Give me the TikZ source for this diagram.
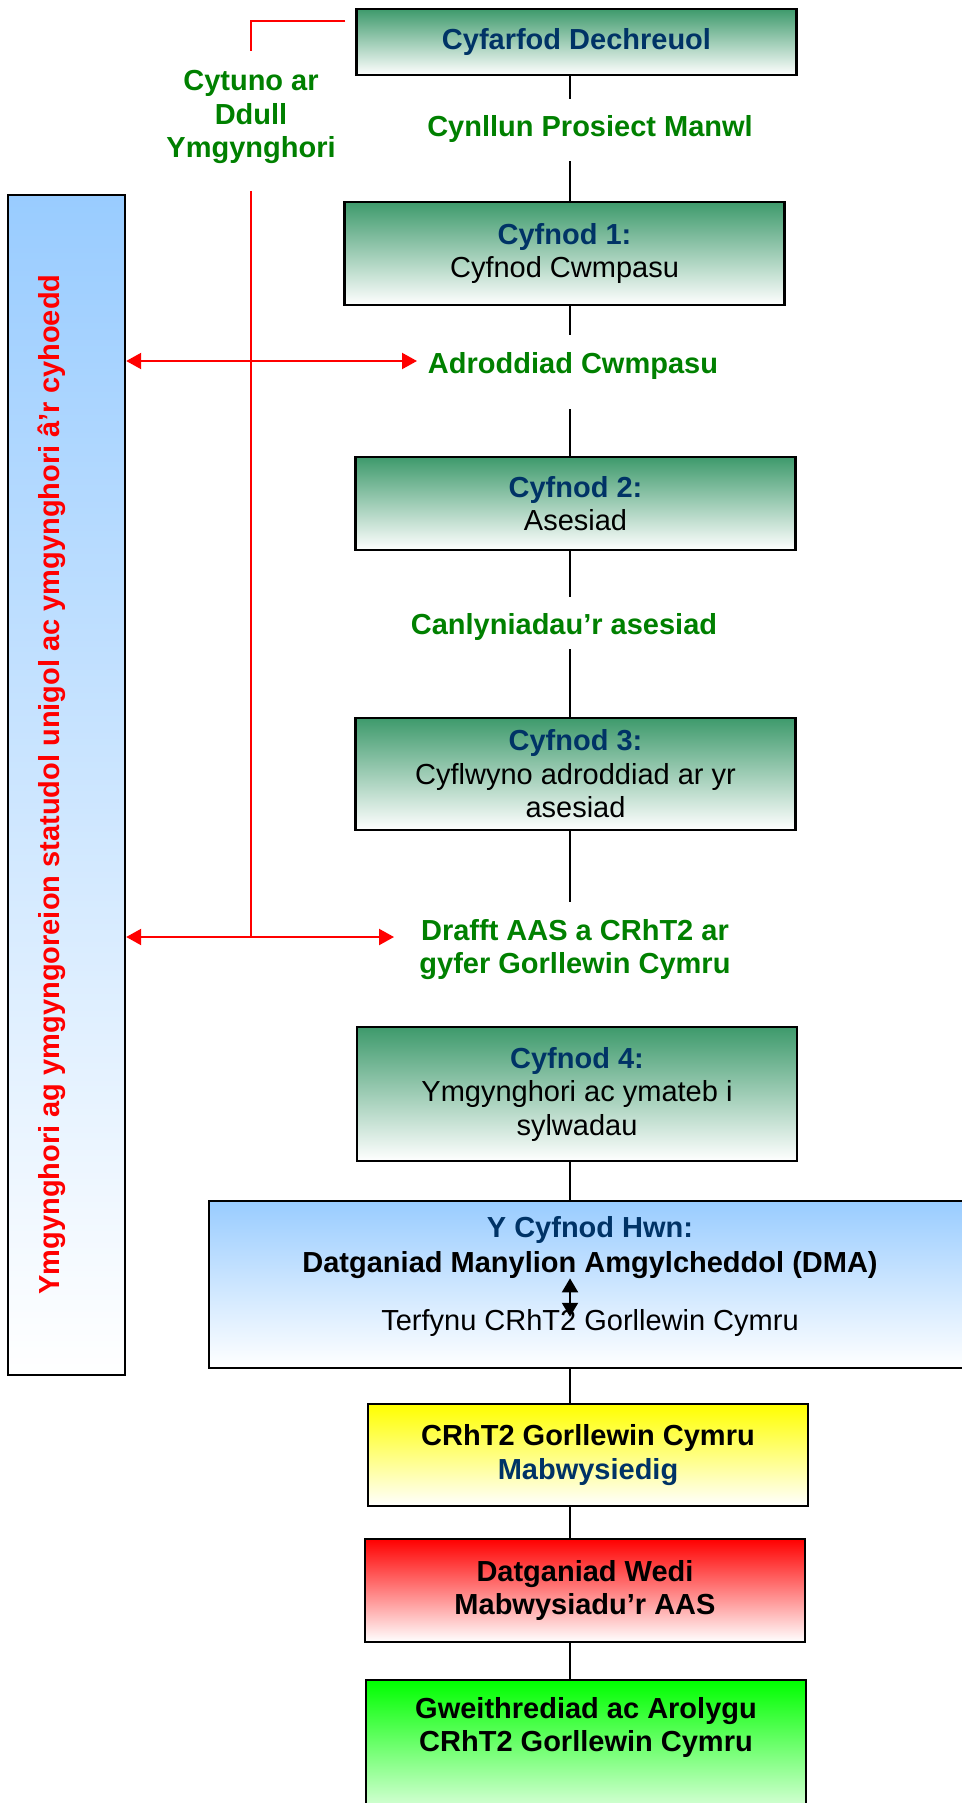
\documentclass[tikz,border=0pt]{standalone}
\usepackage{fontspec}
\setmainfont{Liberation Sans}
\usepackage{tikz}
\usetikzlibrary{positioning,arrows.meta}

\definecolor{headblue}{RGB}{0,51,102}
\definecolor{labgreen}{RGB}{0,128,0}
\definecolor{phasegreen}{RGB}{62,154,108}
\definecolor{skyblue}{RGB}{153,204,255}
\newcommand{\diagfont}{\fontsize{29}{33.5}\selectfont}
\newcommand{\phasehead}[1]{\textcolor{headblue}{\textbf{#1}}}

\begin{document}
\begin{tikzpicture}[x=1pt, y=-1pt,
			box/.style={draw=black, line width=2.4pt, minimum width=440pt, align=center, inner sep=0pt, font=\diagfont},
			phase/.style={box, top color=phasegreen, bottom color=white},
			lab/.style={text=labgreen, font=\diagfont\bfseries, align=center, inner sep=0pt},
			txt/.style={font=\diagfont, align=center, inner sep=0pt},
			link/.style={draw=black, line width=1.5pt},
			redline/.style={draw=red, line width=1.6pt},
			redarrow/.style={draw=red, line width=2.2pt, {Triangle[length=15pt,width=16pt]}-{Triangle[length=15pt,width=16pt]}},
			duo/.style={draw=black, line width=2pt, {Triangle[length=14pt,width=16pt]}-{Triangle[length=14pt,width=16pt]}},
		]
		
			\useasboundingbox (0,0) rectangle (961,1803);
			
			%Boxes
			\node[phase, minimum height=66pt]		(start)	at (576.5,42)		{\phasehead{Cyfarfod Dechreuol}};
			\node[phase, minimum height=103pt]		(c1)	at (564.5,253.5)	{\phasehead{Cyfnod 1:}\\Cyfnod Cwmpasu};
			\node[phase, minimum height=93pt]		(c2)	at (575.5,503.5)	{\phasehead{Cyfnod 2:}\\Asesiad};
			\node[phase, minimum height=112pt]		(c3)	at (575.5,774)		{\phasehead{Cyfnod 3:}\\Cyflwyno adroddiad ar yr\\asesiad};
			\node[phase, minimum height=134pt]		(c4)	at (577,1094)		{\phasehead{Cyfnod 4:}\\Ymgynghori ac ymateb i\\sylwadau};
			\node[box, top color=skyblue, bottom color=white, minimum width=762pt, minimum height=167pt]	(hwn)	at (590,1284.5)	{};
			\node[box, top color=yellow, bottom color=white, minimum height=102pt, font=\diagfont\bfseries]	(mabw)	at (588,1455)	{CRhT2 Gorllewin Cymru\\\textcolor{headblue}{Mabwysiedig}};
			\node[box, top color=red, bottom color=white, minimum height=103pt, font=\diagfont\bfseries]	(aas)	at (585,1590.5)	{Datganiad Wedi\\Mabwysiadu’r AAS};
			\node[box, top color=green, bottom color=white, inner ysep=17pt, anchor=north, font=\diagfont\bfseries]	(gweith)	at (586,1679)	{Gweithrediad ac Arolygu\\CRhT2 Gorllewin Cymru\\[30pt]\mbox{}};
			\node[box, top color=skyblue, bottom color=white, minimum width=117pt, minimum height=1180pt]	(ymg)	at (66.5,785)	{};
			
			%Texts
			\node[txt, rotate=90, anchor=base, text=red, font=\diagfont\bfseries]	(ymgtxt)	at (59,784.5)	{Ymgynghori ag ymgyngoreion statudol unigol ac ymgynghori â’r cyhoedd};
			\node[txt, anchor=base, text=headblue, font=\diagfont\bfseries]	(hwnhead)	at (590,1237)	{Y Cyfnod Hwn:};
			\node[txt, anchor=base, font=\diagfont\bfseries]	(dma)	at (590,1272)	{Datganiad Manylion Amgylcheddol (DMA)};
			\node[txt, anchor=base]	(terf)	at (590,1330)	{Terfynu CRhT2 Gorllewin Cymru};
			\node[lab]					(cytuno)	at (251,117)	{Cytuno ar\\Ddull\\Ymgynghori};
			\node[lab, anchor=base]		(cynllun)	at (590,137)	{Cynllun Prosiect Manwl};
			\node[lab, anchor=base]		(adr)		at (573,373)	{Adroddiad Cwmpasu};
			\node[lab, anchor=base]		(canl)		at (564,634)	{Canlyniadau’r asesiad};
			\node[lab, anchor=north]	(drafft)	at (575,919)	{Drafft AAS a CRhT2 ar\\gyfer Gorllewin Cymru};
			
			\coordinate (spine)	at (570,0);
			\coordinate (atip)	at (417,361);
			\coordinate (dtip)	at (394,937);
			
			%Lines
			\draw[link, shorten >=17pt]	(start.south -| spine) -- (cynllun.north -| spine);
			\draw[link, shorten <=18pt]	(cynllun.south -| spine) -- (c1.north -| spine);
			\draw[link, shorten >=17pt]	(c1.south -| spine) -- (adr.north -| spine);
			\draw[link, shorten <=30pt]	(adr.south -| spine) -- (c2.north -| spine);
			\draw[link, shorten >=16pt]	(c2.south -| spine) -- (canl.north -| spine);
			\draw[link, shorten <=9pt]	(canl.south -| spine) -- (c3.north -| spine);
			\draw[link, shorten >=17pt]	(c3.south -| spine) -- (drafft.north -| spine);
			\draw[link]	(c4.south -| spine) -- (hwn.north -| spine);
			\draw[link]	(hwn.south -| spine) -- (mabw.north -| spine);
			\draw[link]	(mabw.south -| spine) -- (aas.north -| spine);
			\draw[link]	(aas.south -| spine) -- (gweith.north -| spine);
			\draw[duo, shorten >=-8pt]	(dma.south -| spine) -- (terf.north -| spine);
			
			%Red lines
			\draw[redline]	([xshift=-10pt, yshift=-13pt]start.north west) -| ([yshift=19pt]cytuno.north);
			\draw[redline]	([yshift=-27pt]cytuno.south) -- (cytuno.south |- dtip);
			\draw[redarrow]	(ymg.east |- atip) -- (atip);
			\draw[redarrow]	(ymg.east |- dtip) -- (dtip);
		
		\end{tikzpicture}
\end{document}
